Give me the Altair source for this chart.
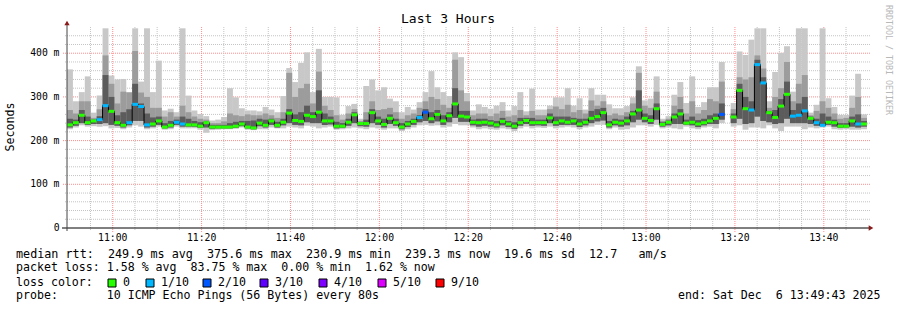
import altair as alt
import pandas as pd
from datetime import datetime, timedelta

# ---------------- data ----------------
START = datetime(2025, 12, 6, 10, 49, 43)
END = datetime(2025, 12, 6, 13, 49, 43)
STEP_S = 80

med = [
    236, 241, 258, 241, 245, 248, 280, 267, 241, 235, 241, 283, 278, 236, 238, 245, 231, 235, 242, 238, 236, 236, 233,
    241, 231, 231, 231, 231, 233, 238, 231, 229, 240, 235, 245, 235, 242, 263, 246, 244, 258, 255, 265, 245, 245,
    233, 233, 242, 259, 239, 239, 264, 245, 237, 251, 241, 231, 238, 244, 253, 265, 250, 260, 245, 257, 284, 256,
    254, 242, 241, 242, 240, 236, 244, 238, 233, 241, 246, 241, 241, 241, 252, 241, 245, 242, 245, 238, 242, 251, 255,
    264, 236, 242, 240, 245, 261, 270, 251, 246, 273, 237, 242, 254, 261, 240, 242, 238, 241, 245, 251, 260, None, 254,
    315, 273, 270, 374, 332, 264, 253, 279, 306, 256, 258, 268, 251, 241, 235, 242, 241, 233, 233, 245, 238, 238,
]
loss = [
    0, 0, 0, 0, 0, 1, 1, 0, 0, 0, 1, 1, 1, 1, 0, 0, 0, 0, 1, 1, 0, 0, 0,
    0, 0, 0, 0, 0, 0, 0, 0, 0, 0, 0, 0, 0, 0, 0, 0, 0, 0, 0, 0, 0, 0,
    0, 0, 0, 0, 0, 0, 0, 0, 0, 0, 0, 0, 0, 0, 1, 2, 0, 0, 0, 0, 0, 0,
    0, 0, 0, 0, 0, 0, 0, 0, 0, 0, 0, 0, 0, 0, 0, 0, 0, 0, 0, 0, 0, 0, 0,
    0, 0, 0, 0, 0, 0, 0, 0, 0, 0, 0, 0, 0, 0, 0, 0, 0, 0, 0, 0, 2, 0, 0,
    0, 0, 1, 1, 1, 0, 0, 0, 0, 1, 1, 1, 0, 1, 1, 0, 0, 0, 0, 0, 1, 0,
]
hi = [
    363, 290, 311, 347, 264, 303, 457, 349, 340, 341, 311, 457, 335, 457, 311, 383, 269, 273, 265, 457, 303, 269, 261,
    256, 246, 248, 254, 320, 299, 274, 269, 269, 267, 277, 271, 265, 302, 366, 334, 378, 402, 311, 410, 300, 300,
    299, 259, 279, 284, 250, 325, 340, 315, 322, 296, 290, 265, 277, 271, 288, 311, 359, 322, 311, 302, 402, 391,
    309, 269, 283, 277, 273, 280, 288, 269, 279, 311, 267, 319, 271, 271, 280, 299, 299, 320, 280, 297, 271, 320, 305,
    305, 283, 274, 274, 279, 299, 370, 292, 296, 347, 250, 256, 305, 334, 286, 347, 277, 288, 322, 322, 380, None, 286,
    404, 396, 431, 457, 457, 290, 357, 401, 416, 312, 457, 457, 264, 282, 457, 297, 277, 259, 259, 303, 353, 260,
]
hi2 = [
    270, 262, 290, 290, 252, 272, 395, 330, 285, 312, 310, 405, 310, 300, 275, 275, 255, 265, 255, 280, 265, 255, 250,
    248, 240, 240, 244, 262, 258, 256, 260, 258, 258, 262, 258, 252, 265, 355, 300, 320, 330, 285, 358, 280, 270,
    258, 248, 262, 272, 245, 265, 290, 270, 272, 275, 265, 250, 258, 262, 275, 290, 300, 295, 282, 275, 385, 315,
    290, 258, 262, 262, 256, 262, 268, 255, 258, 270, 258, 268, 258, 258, 272, 278, 272, 282, 265, 270, 262, 292, 280,
    290, 258, 262, 258, 265, 285, 355, 280, 275, 312, 245, 250, 280, 300, 262, 290, 262, 270, 295, 290, 335, None, 272,
    345, 340, 345, 395, 365, 275, 300, 320, 380, 290, 330, 350, 258, 268, 290, 275, 262, 250, 252, 275, 300, 252,
]
hi3 = [
    250, 248, 270, 255, 248, 256, 350, 300, 258, 265, 272, 330, 285, 262, 253, 255, 240, 245, 248, 255, 250, 245, 242,
    244, 236, 236, 236, 240, 243, 245, 245, 246, 250, 248, 250, 243, 250, 272, 260, 265, 280, 265, 315, 262, 255,
    243, 240, 250, 265, 240, 248, 272, 255, 250, 260, 250, 240, 245, 250, 258, 272, 265, 270, 258, 265, 320, 268,
    268, 248, 250, 250, 247, 245, 252, 245, 242, 252, 252, 252, 248, 248, 262, 255, 255, 255, 252, 250, 250, 268, 272,
    275, 245, 250, 248, 255, 268, 315, 262, 258, 285, 242, 246, 262, 272, 248, 255, 247, 250, 258, 262, 285, None, 262,
    330, 300, 290, 385, 345, 268, 270, 295, 335, 270, 285, 300, 255, 250, 262, 255, 248, 240, 240, 255, 260, 245,
]
lo2 = [
    230, 234, 240, 236, 238, 238, 240, 236, 234, 230, 235, 245, 245, 230, 232, 236, 228, 230, 236, 232, 232, 232, 229,
    230, 227, 228, 228, 228, 229, 233, 228, 226, 233, 230, 236, 230, 235, 240, 236, 235, 242, 240, 240, 236, 237,
    228, 229, 234, 240, 233, 232, 240, 236, 230, 238, 234, 226, 231, 236, 242, 245, 240, 244, 236, 242, 252, 243,
    243, 235, 232, 234, 232, 230, 235, 231, 227, 234, 238, 234, 235, 234, 240, 234, 236, 236, 236, 231, 235, 240, 244,
    246, 230, 235, 232, 235, 242, 248, 242, 238, 248, 232, 235, 238, 238, 236, 235, 231, 235, 238, 238, 248, None, 240,
    250, 238, 240, 255, 245, 242, 238, 240, 250, 240, 240, 240, 238, 234, 234, 236, 232, 229, 230, 232, 230, 232,
]
lo = [
    226, 230, 235, 232, 233, 232, 233, 228, 229, 226, 230, 235, 232, 226, 228, 232, 225, 226, 232, 228, 228, 228, 225,
    218, 224, 225, 226, 226, 227, 230, 225, 224, 226, 226, 230, 228, 228, 232, 230, 228, 234, 232, 228, 230, 232,
    225, 226, 228, 230, 228, 226, 230, 228, 225, 228, 228, 222, 226, 230, 235, 236, 234, 235, 230, 232, 238, 235,
    235, 230, 226, 228, 226, 225, 228, 226, 222, 228, 232, 228, 230, 229, 232, 228, 230, 232, 230, 226, 230, 232, 236,
    236, 226, 230, 225, 226, 230, 235, 235, 232, 236, 228, 230, 228, 226, 232, 228, 226, 230, 232, 228, 240, None, 232,
    235, 225, 230, 230, 228, 235, 228, 222, 232, 232, 232, 226, 230, 228, 230, 232, 226, 225, 226, 225, 225, 226,
]

loss_codes = [0, 1, 2, 3, 4, 5, 9]
loss_labels = ["0", "1/10", "2/10", "3/10", "4/10", "5/10", "9/10"]
loss_colors = ["#26ff00", "#00b8ff", "#0059ff", "#5e00ff", "#7e00ff", "#dd00ff", "#ff0000"]

y_tick_values = [0, 100, 200, 300, 400]
y_tick_labels = ["0  ", "100 m", "200 m", "300 m", "400 m"]
x_tick_times = ["11:00", "11:20", "11:40", "12:00", "12:20", "12:40", "13:00", "13:20", "13:40"]

legend_lines = [
    "median rtt:  249.9 ms avg  375.6 ms max  230.9 ms min  239.3 ms now  19.6 ms sd  12.7   am/s",
    "packet loss: 1.58 % avg  83.75 % max  0.00 % min  1.62 % now",
    "loss color:",
    "probe:       10 ICMP Echo Pings (56 Bytes) every 80s",
]
end_text = "end: Sat Dec  6 13:49:43 2025"
title_text = "Last 3 Hours"
ylabel_text = "Seconds"
credit_text = "RRDTOOL / TOBI OETIKER"

NB = "\u00a0"


def keep_spaces(s):
    return s.replace(" ", NB)


# ---------------- build tables ----------------
FMT = "%Y-%m-%dT%H:%M:%S"
n = len(med)
t0 = [(START + timedelta(seconds=STEP_S * i)).strftime(FMT) for i in range(n)]
t1 = [(START + timedelta(seconds=STEP_S * (i + 1))).strftime(FMT) for i in range(n)]
df = pd.DataFrame(dict(t0=t0, t1=t1, med=med, loss=loss, lo=lo, lo2=lo2,
                       hi3=hi3, hi2=hi2, hi=hi))
line_df = pd.DataFrame(dict(t=t0 + [t1[-1]], med=med + [med[-1]]))

grid_t = []
tt = datetime(2025, 12, 6, 10, 55)
while tt <= END:
    grid_t.append(dict(t=tt.strftime(FMT), major=(tt.minute % 20 == 0)))
    tt += timedelta(minutes=5)
vgrid = pd.DataFrame(grid_t)
hgrid = pd.DataFrame(dict(v=list(range(20, 460, 20))))
hgrid["major"] = hgrid["v"] % 100 == 0

ylab_df = pd.DataFrame(dict(v=y_tick_values, lab=[keep_spaces(s) for s in y_tick_labels]))
xlab_df = pd.DataFrame(dict(t=["2025-12-06T" + s + ":00" for s in x_tick_times], lab=x_tick_times))

W, H = 800, 201
FONT = "DejaVu Sans Mono"


def dt(d):
    return alt.DateTime(year=d.year, month=d.month, date=d.day,
                        hours=d.hour, minutes=d.minute, seconds=d.second)


XS = alt.Scale(domain=[dt(START), dt(END)])
YS = alt.Scale(domain=[0, 460], nice=False, zero=True)

# grid
hg_minor = alt.Chart(hgrid).transform_filter("!datum.major").mark_rule(
    color="#c4c4c4", strokeDash=[1, 1], strokeWidth=1).encode(
    y=alt.Y("v:Q", scale=YS, axis=None), x=alt.value(-2), x2=alt.value(W + 3))
hg_major = alt.Chart(hgrid).transform_filter("datum.major").mark_rule(
    color="#ff8c8c", strokeDash=[1, 1], strokeWidth=1).encode(
    y=alt.Y("v:Q", scale=YS, axis=None), x=alt.value(-4), x2=alt.value(W + 3))
vg_minor = alt.Chart(vgrid).transform_filter("!datum.major").mark_rule(
    color="#c4c4c4", strokeDash=[1, 1], strokeWidth=1).encode(
    x=alt.X("t:T", scale=XS, axis=None), y=alt.value(0), y2=alt.value(H + 2))
vg_major = alt.Chart(vgrid).transform_filter("datum.major").mark_rule(
    color="#ff8c8c", strokeDash=[1, 1], strokeWidth=1).encode(
    x=alt.X("t:T", scale=XS, axis=None), y=alt.value(0), y2=alt.value(H + 4))

valid = "isValid(datum.med)"
smoke1 = alt.Chart(df).transform_filter(valid).mark_rect(color="#c8c8c8").encode(
    x=alt.X("t0:T", scale=XS, axis=None), x2="t1:T",
    y=alt.Y("lo:Q", scale=YS, axis=None), y2="hi:Q")
smoke2 = alt.Chart(df).transform_filter(valid).mark_rect(color="#9c9c9c").encode(
    x=alt.X("t0:T", scale=XS, axis=None), x2="t1:T",
    y=alt.Y("lo2:Q", scale=YS, axis=None), y2="hi2:Q")
smoke3 = alt.Chart(df).transform_filter(valid).mark_rect(color="#5c5c5c").encode(
    x=alt.X("t0:T", scale=XS, axis=None), x2="t1:T",
    y=alt.Y("lo2:Q", scale=YS, axis=None), y2="hi3:Q")

step_line = alt.Chart(line_df).mark_line(color="black", strokeWidth=1,
                                          interpolate="step-after").encode(
    x=alt.X("t:T", scale=XS, axis=None), y=alt.Y("med:Q", scale=YS, axis=None))
med_rules = alt.Chart(df).transform_filter(valid).mark_rule(strokeWidth=3).encode(
    x=alt.X("t0:T", scale=XS, axis=None), x2="t1:T",
    y=alt.Y("med:Q", scale=YS, axis=None),
    color=alt.Color("loss:O", scale=alt.Scale(domain=loss_codes, range=loss_colors),
                    legend=None))

# axis labels drawn through the scales
ylabels = alt.Chart(ylab_df).mark_text(align="right", baseline="middle", font=FONT,
                                       fontSize=9.75, color="black").encode(
    y=alt.Y("v:Q", scale=YS, axis=None), x=alt.value(-7.5), text="lab:N")
xlabels = alt.Chart(xlab_df).mark_text(align="center", baseline="middle", font=FONT,
                                       fontSize=9.75, color="black").encode(
    x=alt.X("t:T", scale=XS, axis=None), y=alt.value(H + 9.5), text="lab:N")

one = pd.DataFrame({"a": [0]})
x_axis_line = alt.Chart(one).mark_rule(color="black", strokeWidth=1).encode(
    x=alt.value(-5), x2=alt.value(W + 3), y=alt.value(H))
y_axis_line = alt.Chart(one).mark_rule(color="#444444", strokeWidth=1).encode(
    x=alt.value(0), y=alt.value(-4), y2=alt.value(H + 3))
arrow_up = alt.Chart(one).mark_point(shape="triangle-up", filled=True, size=28,
                                     color="#8b1a1a", opacity=1).encode(
    x=alt.value(0), y=alt.value(-4))
arrow_right = alt.Chart(one).mark_point(shape="triangle-right", filled=True, size=28,
                                        color="#8b1a1a", opacity=1).encode(
    x=alt.value(W + 4), y=alt.value(H))


def txt(s, x, y, size=11.6, align="left", color="black", angle=0):
    return alt.Chart(one).mark_text(text=keep_spaces(s), align=align, baseline="middle",
                                    fontSize=size, font=FONT, color=color,
                                    angle=angle).encode(x=alt.value(x), y=alt.value(y))


texts = [
    txt(title_text, 381, -8, size=13, align="center"),
    txt(ylabel_text, -56, 100, size=11.6, align="center", angle=270),
    txt(credit_text, 820.5, 33, size=8.3, align="center", color="#b8b8b8", angle=90),
    txt(legend_lines[0], -51, 227.3, size=11.75),
    txt(legend_lines[1], -51, 241.3),
    txt(legend_lines[2], -51, 255.5),
    txt(legend_lines[3], -51, 269),
    txt(end_text, 611, 269),
]

box_x = [41, 79, 136, 193, 252, 311, 369]
boxes = []
for bx, lab, col in zip(box_x, loss_labels, loss_colors):
    boxes.append(alt.Chart(one).mark_rect(fill=col, stroke="black", strokeWidth=1).encode(
        x=alt.value(bx), x2=alt.value(bx + 8), y=alt.value(252), y2=alt.value(260)))
    boxes.append(txt(lab, bx + 15, 255.5))

chart = alt.layer(
    hg_minor, hg_major, vg_minor, vg_major,
    smoke1, smoke2, smoke3, step_line, med_rules,
    x_axis_line, y_axis_line, arrow_up, arrow_right,
    ylabels, xlabels,
    *texts, *boxes,
).properties(
    width=W, height=H,
    padding={"left": 67, "top": 27, "right": 30, "bottom": 82},
    autosize=alt.AutoSizeParams(type="none"),
    background="white",
).configure_view(stroke=None)

chart.save("out.html", embed_options={"renderer": "svg", "actions": False})
